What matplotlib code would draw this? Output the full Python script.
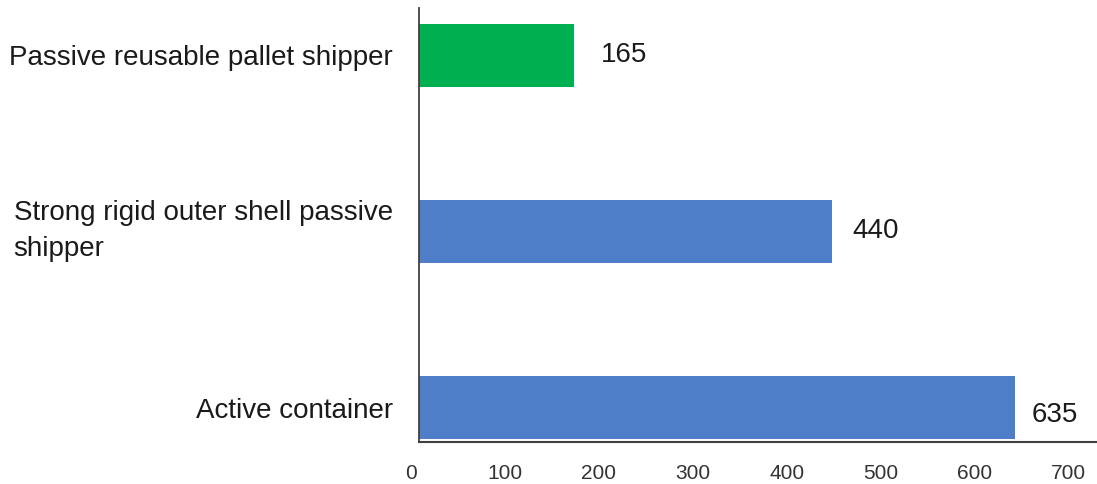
import matplotlib
matplotlib.use("Agg")
import matplotlib.pyplot as plt
import matplotlib.transforms as mtransforms

# Data (top to bottom as shown)
categories = ["Passive reusable pallet shipper",
              "Strong rigid outer shell passive\nshipper",
              "Active container"]
values = [165, 440, 635]
bar_colors = ["#00B050", "#4F7EC9", "#4F7EC9"]
xticks = [0, 100, 200, 300, 400, 500, 600, 700]
# label offsets in points (the last label sits close to the bar end, slightly lower)
label_offsets = [(19, 0), (14.5, 0), (12, -5)]

plt.rcParams['font.family'] = ['Liberation Sans', 'DejaVu Sans']

fig = plt.figure(figsize=(10.97, 4.84), dpi=100)
ax = fig.add_axes([0.382, 0.087, 0.618, 0.896])

pos = list(range(len(categories)))
ax.barh(pos, values, height=0.357, color=bar_colors)

for p, v, off in zip(pos, values, label_offsets):
    ax.annotate(str(v), (v, p), xytext=off, textcoords='offset points',
                ha='left', va='center', fontsize=20, color='#1a1a1a')

ax.set_ylim(2.193, -0.266)
ax.set_xlim(0, 722)
ax.set_xticks(xticks)
ax.set_yticks(pos)
ax.set_yticklabels(categories, fontsize=20, color='#1a1a1a', ha='right',
                   multialignment='left', linespacing=1.5)
ax.tick_params(axis='y', length=0, pad=19)
ax.tick_params(axis='x', length=0, pad=16, labelsize=15, labelcolor='#333333')

shift = mtransforms.ScaledTranslation(-8 / 100, 0, fig.dpi_scale_trans)
for lbl in ax.get_xticklabels():
    lbl.set_transform(lbl.get_transform() + shift)
# the wrapped label sits a little higher in the reference
lbl2 = ax.get_yticklabels()[1]
lbl2.set_transform(lbl2.get_transform() + mtransforms.ScaledTranslation(0, 8 / 100, fig.dpi_scale_trans))

for s in ['top', 'right']:
    ax.spines[s].set_visible(False)
ax.spines['left'].set_color('#404040')
ax.spines['bottom'].set_color('#404040')
ax.spines['left'].set_linewidth(1.3)
ax.spines['bottom'].set_linewidth(1.5)

fig.savefig('out.png', dpi=100)
